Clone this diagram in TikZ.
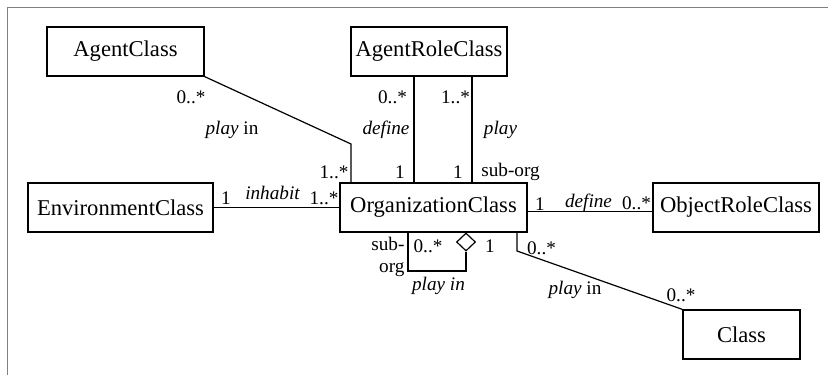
\documentclass[tikz,border=0pt]{standalone}
\usepackage{fontspec}
\setmainfont{Liberation Serif}
\usetikzlibrary{shapes.geometric}

\begin{document}
\begin{tikzpicture}[x=0.5pt, y=-0.5pt, line width=0.6pt,
    cls/.style={draw, minimum height=24.5pt, inner sep=0pt, font=\fontsize{11.3}{13}\selectfont},
    mult/.style={inner sep=0.5pt, font=\fontsize{9.6}{11}\selectfont},
    role/.style={mult, font=\fontsize{9.6}{11}\selectfont\itshape},
    aggr/.style={diamond, draw, fill=white, inner sep=0pt, minimum width=9.5pt, minimum height=9pt}
]

% Picture size and frame
\useasboundingbox (0,0) rectangle (828,375);
\draw[gray, line width=0.5pt] (7.5,375) -- (7.5,7.5) -- (828,7.5);

% Define the classes
\node[cls, minimum width=78.5pt] (agent) at (125.5,51.5) {AgentClass};
\node[cls, minimum width=78pt] (arole) at (429,51.5) {AgentRoleClass};
\node[cls, minimum width=92.5pt] (env) at (120.5,207.5) {EnvironmentClass};
\node[cls, minimum width=93.5pt] (org) at (433.5,207.5) {OrganizationClass};
\node[cls, minimum width=83pt] (orole) at (736,207.5) {ObjectRoleClass};
\node[cls, minimum width=58.5pt] (cls) at (741.5,334.5) {Class};

% Bend points of the associations
\coordinate (agbend) at (351,144);
\coordinate (defx) at (414,130);
\coordinate (playx) at (472,130);
\coordinate (loopl) at (408,271);
\coordinate (clbend) at (517,251);

% Aggregation diamond of the sub-organization loop
\node[aggr] (dia) at (466,242) {};

% Draw the associations
\draw (agent.south east) -- (agbend) -- (agbend |- org.north);
\draw (arole.south -| defx) -- (org.north -| defx);
\draw (arole.south -| playx) -- (org.north -| playx);
\draw (env) -- (org);
\draw ([yshift=-2pt]org.east) -- ([yshift=-2pt]orole.west);
\draw (org.south -| loopl) -- (loopl) -| (dia.south);
\draw (org.south -| clbend) -- (clbend) -- (cls.north west);

% AgentClass -- OrganizationClass
\node[mult] (m1) at (191,97) {0..*};
\node[mult] (r1) at (232,130) {\textit{play} in};
\node[mult] (m2) at (334,172) {1..*};

% AgentRoleClass -- OrganizationClass
\node[mult] (m3) at (392.5,97) {0..*};
\node[role] (r2) at (386,130) {define};
\node[mult] (m4) at (400,172) {1};
\node[mult] (m5) at (455.5,97) {1..*};
\node[role] (r3) at (500.5,130) {play};
\node[mult] (m6) at (458,172) {1};
\node[mult] (r4) at (510.5,172) {sub-org};

% EnvironmentClass -- OrganizationClass
\node[mult] (m7) at (226,198) {1};
\node[role] (r5) at (272.5,193) {inhabit};
\node[mult] (m8) at (324,198) {1..*};

% OrganizationClass -- ObjectRoleClass
\node[mult] (m9) at (540,204) {1};
\node[role] (r6) at (588.5,203) {define};
\node[mult] (m10) at (636.5,203) {0..*};

% Sub-organization loop
\node[mult, align=right, anchor=north east] (r7) at (406,236) {sub-\\org};
\node[mult] (m11) at (428,246) {0..*};
\node[mult] (m12) at (490,246) {1};
\node[role] (r8) at (438.5,286) {play in};

% OrganizationClass -- Class
\node[mult] (m13) at (541.5,248) {0..*};
\node[mult] (r9) at (575,290) {\textit{play} in};
\node[mult] (m14) at (681,295) {0..*};

\end{tikzpicture}
\end{document}
